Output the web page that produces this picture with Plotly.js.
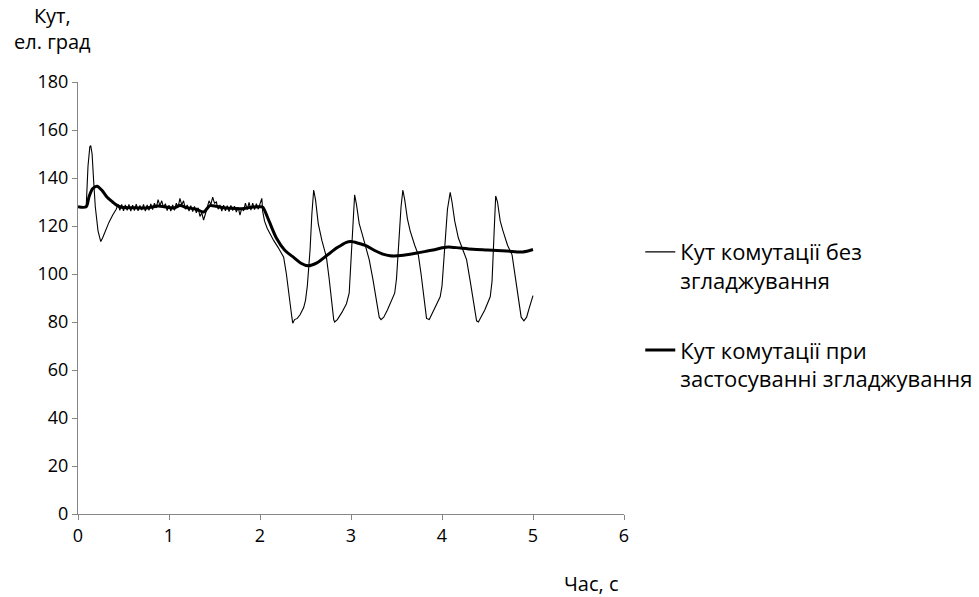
<!DOCTYPE html>
<html>
<head>
<meta charset="utf-8">
<script src="https://cdn.plot.ly/plotly-3.0.1.min.js"></script>
<style>html,body{margin:0;padding:0;background:#fff;}#chart{width:979px;height:597px;}</style>
</head>
<body>
<div id="chart"></div>
<script>
const seriesNames = ["Кут комутації без<br>згладжування", "Кут комутації при<br>застосуванні згладжування"];

const tRaw = [0, 0.09, 0.11, 0.13, 0.14, 0.155, 0.17, 0.19, 0.22, 0.25, 0.27, 0.30, 0.34, 0.38, 0.42, 0.44,
  0.46, 0.48, 0.50, 0.52, 0.54, 0.56, 0.58, 0.60, 0.62, 0.64, 0.66, 0.68, 0.70, 0.72, 0.74, 0.76, 0.78, 0.80,
  0.82, 0.84, 0.86, 0.88, 0.90, 0.92, 0.94, 0.96, 0.98, 1.00, 1.02, 1.04, 1.06, 1.08, 1.10, 1.12, 1.14, 1.16,
  1.18, 1.20, 1.22, 1.24, 1.26, 1.28, 1.30, 1.32, 1.34, 1.36, 1.38, 1.40, 1.42, 1.44, 1.46, 1.48, 1.50, 1.52,
  1.54, 1.56, 1.58, 1.60, 1.62, 1.64, 1.66, 1.68, 1.70, 1.72, 1.74, 1.76, 1.78, 1.80, 1.82, 1.84, 1.86, 1.88,
  1.90, 1.92, 1.94, 1.96, 1.98, 2.00, 2.02, 2.03, 2.05, 2.08, 2.12, 2.15, 2.20, 2.26, 2.29, 2.32, 2.35, 2.36,
  2.38, 2.41, 2.44, 2.48, 2.50, 2.52, 2.55, 2.57, 2.59, 2.61, 2.64, 2.68, 2.73, 2.76, 2.79, 2.81, 2.82, 2.85,
  2.90, 2.95, 2.98, 3.00, 3.02, 3.04, 3.06, 3.09, 3.12, 3.16, 3.20, 3.24, 3.28, 3.31, 3.33, 3.36, 3.40, 3.45,
  3.48, 3.50, 3.52, 3.55, 3.57, 3.59, 3.62, 3.65, 3.70, 3.74, 3.77, 3.80, 3.83, 3.86, 3.90, 3.95, 3.98, 4.00,
  4.03, 4.06, 4.09, 4.11, 4.14, 4.18, 4.23, 4.27, 4.31, 4.35, 4.38, 4.40, 4.43, 4.47, 4.53, 4.55, 4.57, 4.59,
  4.61, 4.64, 4.67, 4.72, 4.77, 4.80, 4.84, 4.87, 4.90, 4.93, 4.96, 5.00];

const angleRaw = [128, 128, 145, 153, 153.5, 150, 140, 128, 118, 113.5, 115, 118, 121.5, 124.5, 127, 129,
  126.5, 129, 126.3, 128.8, 126.5, 129, 126.2, 128.7, 126.4, 129.1, 126.3, 128.6, 126.6, 129, 126.2, 128.8, 126.5, 129.2,
  126.8, 129.5, 127.5, 131, 128.5, 130.5, 127.6, 129.3, 126.4, 128.7, 126.2, 128.8, 126.5, 129.5, 127.8, 131.5, 128.8, 130.5,
  127, 128.8, 126.2, 128.5, 126, 128.2, 125.5, 127.6, 124, 125.5, 122.5, 125, 127.5, 130.5, 129, 132, 129.5, 130,
  127, 128.8, 126.2, 128.7, 126.3, 128.5, 126, 128.6, 126.4, 128.3, 125.8, 127.8, 124.5, 127.5, 126.3, 129.5, 126.8, 129.8,
  126.6, 129.5, 126.8, 129.3, 127, 129.5, 131.5, 126, 122, 119, 116, 114, 111, 107, 100, 90, 82, 79.5,
  81, 81.5, 83, 86, 89, 95, 110, 125, 135, 131, 121, 114, 107, 98, 87, 81, 80, 81,
  84, 87.6, 92, 105, 122, 133, 129, 121, 117, 111, 106, 98, 89, 82, 81, 82, 85, 89,
  92, 98, 112, 128, 135, 131, 123, 118, 112, 108, 100, 90, 81.5, 81, 84, 88, 90.5, 95,
  112, 127, 134, 130, 122, 115, 110, 106, 97, 87, 80.5, 80, 82, 85, 90.5, 97, 115, 132.5,
  130, 122, 118, 112, 108, 100, 90, 82, 80.5, 82, 86, 91];

const tSmooth = [0, 0.09, 0.12, 0.16, 0.21, 0.26, 0.32, 0.38, 0.42, 0.48, 0.60, 0.75, 0.88, 0.95, 1.05, 1.12,
  1.20, 1.30, 1.38, 1.45, 1.52, 1.60, 1.70, 1.80, 1.90, 2.00, 2.03, 2.10, 2.18, 2.27, 2.37, 2.45, 2.53, 2.62,
  2.73, 2.85, 2.95, 3.00, 3.08, 3.17, 3.26, 3.35, 3.43, 3.52, 3.65, 3.76, 3.90, 4.00, 4.07, 4.20, 4.34, 4.50,
  4.71, 4.89, 5.00];

const angleSmooth = [128, 128, 132, 135.5, 136.6, 135, 132, 130, 128.8, 127.8, 127.6, 127.5, 128.3, 128, 127.5, 128.5,
  127.6, 127, 125.8, 128.5, 128.2, 127.6, 127.4, 127.2, 127.8, 128, 127.8, 122, 115, 110, 106.9, 104.5, 103.4, 104.5,
  107.6, 111, 113.2, 113.5, 112.8, 111.7, 109.8, 108.3, 107.6, 107.6, 108.2, 109, 110, 110.9, 111.3, 110.8, 110.3, 110,
  109.6, 109.2, 110.2];

const xTicks = [0, 1, 2, 3, 4, 5, 6];
const yTicks = [0, 20, 40, 60, 80, 100, 120, 140, 160, 180];

const FONT = "'Open Sans', 'Noto Sans', sans-serif";

const traces = [
  {x: tRaw, y: angleRaw, name: seriesNames[0], type: 'scatter', mode: 'lines',
   line: {color: '#000000', width: 1.1}, legendgroup: 'a'},
  {x: tSmooth, y: angleSmooth, name: seriesNames[1], type: 'scatter', mode: 'lines',
   line: {color: '#000000', width: 3, shape: 'spline', smoothing: 0.8}, legendgroup: 'b'}
];

const axisCommon = {
  showgrid: false, zeroline: false, showline: true, linecolor: '#868686', linewidth: 1,
  ticks: 'outside', ticklen: 5, tickcolor: '#868686', tickwidth: 1,
  tickfont: {family: FONT, size: 18, color: '#000000'}
};

const layout = {
  width: 979, height: 597,
  margin: {l: 78, r: 355, t: 82, b: 83, autoexpand: false},
  paper_bgcolor: '#ffffff', plot_bgcolor: '#ffffff',
  showlegend: true,
  xaxis: Object.assign({}, axisCommon, {range: [0, 6], tickvals: xTicks, ticktext: xTicks.map(String)}),
  yaxis: Object.assign({}, axisCommon, {range: [0, 180], tickvals: yTicks, ticktext: yTicks.map(String)}),
  legend: {xref: 'container', yref: 'container', x: 0.654, xanchor: 'left', y: 0.613, yanchor: 'top', valign: 'top',
    font: {family: FONT, size: 22, color: '#000000'}, tracegroupgap: 38, bgcolor: 'rgba(0,0,0,0)'},
  annotations: [
    {xref: 'paper', yref: 'paper', x: -0.047, y: 1.058, xanchor: 'center', yanchor: 'bottom', showarrow: false,
     text: 'Кут,<br>ел. град', align: 'center', font: {family: FONT, size: 20, color: '#000000'}},
    {xref: 'paper', yref: 'paper', x: 0.94, y: -0.16, xanchor: 'center', yanchor: 'middle', showarrow: false,
     text: 'Час, с', font: {family: FONT, size: 20, color: '#000000'}}
  ]
};

Plotly.newPlot('chart', traces, layout, {displayModeBar: false, staticPlot: true});
</script>
</body>
</html>
